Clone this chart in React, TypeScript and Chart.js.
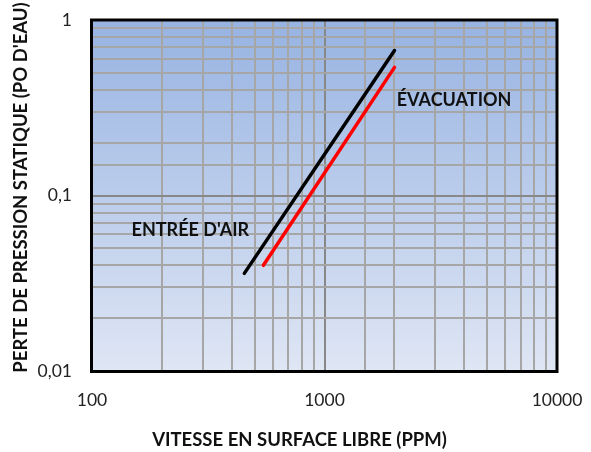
import React, { useEffect, useRef } from "react";
import { Chart, registerables } from "chart.js";

Chart.register(...registerables);

// ---- data ----
const X_MIN = 100;
const X_MAX = 10000;
const Y_MIN = 0.01;
const Y_MAX = 1;

const intakeX = [452, 2000];
const intakeY = [0.036, 0.67];
const exhaustX = [546, 2000];
const exhaustY = [0.04, 0.537];

const xTickLabels: Record<string, string> = { "2": "100", "3": "1000", "4": "10000" };
const yTickLabels: Record<string, string> = { "-2": "0,01", "-1": "0,1", "0": "1" };

const annotationTexts = ["ENTRÉE D'AIR", "ÉVACUATION"];
const annotationX = [148, 2045];
const annotationY = [0.0644, 0.352];

const xTitle = "VITESSE EN SURFACE LIBRE (PPM)";
const yTitle = "PERTE DE PRESSION STATIQUE (PO D'EAU)";

const FONT = "Lato, 'Open Sans', sans-serif";

function decade(v: number): number | null {
  const l = Math.log10(v);
  const r = Math.round(l);
  return Math.abs(l - r) < 1e-6 ? r : null;
}

const gridColor = (ctx: any) =>
  ctx.tick && decade(ctx.tick.value) !== null ? "#888888" : "#a6a6a6";

const plotDecor = {
  id: "plotDecor",
  beforeDraw(chart: any) {
    const { ctx, chartArea } = chart;
    const g = ctx.createLinearGradient(0, chartArea.top, 0, chartArea.bottom);
    g.addColorStop(0, "rgb(151,179,226)");
    g.addColorStop(1, "rgb(223,230,244)");
    ctx.save();
    ctx.fillStyle = g;
    ctx.fillRect(chartArea.left, chartArea.top, chartArea.right - chartArea.left, chartArea.bottom - chartArea.top);
    ctx.restore();
  },
  afterDatasetsDraw(chart: any) {
    const { ctx, chartArea, scales } = chart;
    ctx.save();
    ctx.strokeStyle = "#000";
    ctx.lineWidth = 3;
    ctx.strokeRect(chartArea.left - 0.5, chartArea.top, chartArea.right - chartArea.left + 0.5, chartArea.bottom - chartArea.top + 0.5);
    ctx.fillStyle = "#111";
    ctx.font = `bold 18px ${FONT}`;
    ctx.textAlign = "left";
    ctx.textBaseline = "alphabetic";
    annotationTexts.forEach((t, i) => {
      const px = scales.x.getPixelForValue(annotationX[i]);
      const py = scales.y.getPixelForValue(annotationY[i]);
      ctx.fillText(t, px, py + 6.5);
    });
    // x-axis title
    ctx.font = `bold 18.5px ${FONT}`;
    ctx.textAlign = "center";
    ctx.textBaseline = "middle";
    ctx.fillText(xTitle, (chartArea.left + chartArea.right) / 2 - 25, 440);
    // y-axis title (rotated)
    ctx.translate(21, (chartArea.top + chartArea.bottom) / 2 - 8);
    ctx.rotate(-Math.PI / 2);
    ctx.fillText(yTitle, 0, 0);
    ctx.restore();
  },
};

export default function App() {
  const ref = useRef<HTMLCanvasElement | null>(null);
  useEffect(() => {
    if (!ref.current) return;
    const chart = new Chart(ref.current, {
      type: "line",
      data: {
        datasets: [
          {
            label: "Entrée d'air",
            data: intakeX.map((x, i) => ({ x, y: intakeY[i] })),
            borderColor: "#000000",
            borderWidth: 3.5,
            borderCapStyle: "round",
            pointRadius: 0,
            fill: false,
          },
          {
            label: "Évacuation",
            data: exhaustX.map((x, i) => ({ x, y: exhaustY[i] })),
            borderColor: "#ff0000",
            borderWidth: 3.5,
            borderCapStyle: "round",
            pointRadius: 0,
            fill: false,
          },
        ],
      },
      options: {
        responsive: false,
        animation: false,
        layout: { padding: { top: 20, right: 34, left: 0, bottom: 0 } },
        plugins: { legend: { display: false }, tooltip: { enabled: false } },
        scales: {
          x: {
            type: "logarithmic",
            min: X_MIN,
            max: X_MAX,
            afterFit: (s: any) => {
              s.height = 81;
            },
            border: { display: false },
            grid: {
              color: gridColor,
              lineWidth: 2,
              drawTicks: true,
              tickLength: 19,
              tickColor: "rgba(0,0,0,0)",
            },
            ticks: {
              autoSkip: false,
              maxRotation: 0,
              padding: 0,
              color: "#222",
              font: { family: FONT, size: 17.5 },
              callback: (v: any) => {
                const d = decade(Number(v));
                return d !== null && xTickLabels[String(d)] ? xTickLabels[String(d)] : "";
              },
            },
            title: { display: false },
          },
          y: {
            type: "logarithmic",
            min: Y_MIN,
            max: Y_MAX,
            afterFit: (s: any) => {
              s.width = 92;
            },
            border: { display: false },
            grid: {
              color: gridColor,
              lineWidth: 2,
              drawTicks: true,
              tickLength: 20,
              tickColor: "rgba(0,0,0,0)",
            },
            ticks: {
              autoSkip: false,
              padding: 0,
              color: "#222",
              font: { family: FONT, size: 17.5 },
              callback: (v: any) => {
                const d = decade(Number(v));
                return d !== null && yTickLabels[String(d)] ? yTickLabels[String(d)] : "";
              },
            },
            title: { display: false },
          },
        },
      },
      plugins: [plotDecor],
    } as any);
    return () => chart.destroy();
  }, []);
  return (
    <div style={{ position: "absolute", left: 0, top: 0, width: 591, height: 452, background: "#fff" }}>
      <canvas ref={ref} width={591} height={452} />
    </div>
  );
}
